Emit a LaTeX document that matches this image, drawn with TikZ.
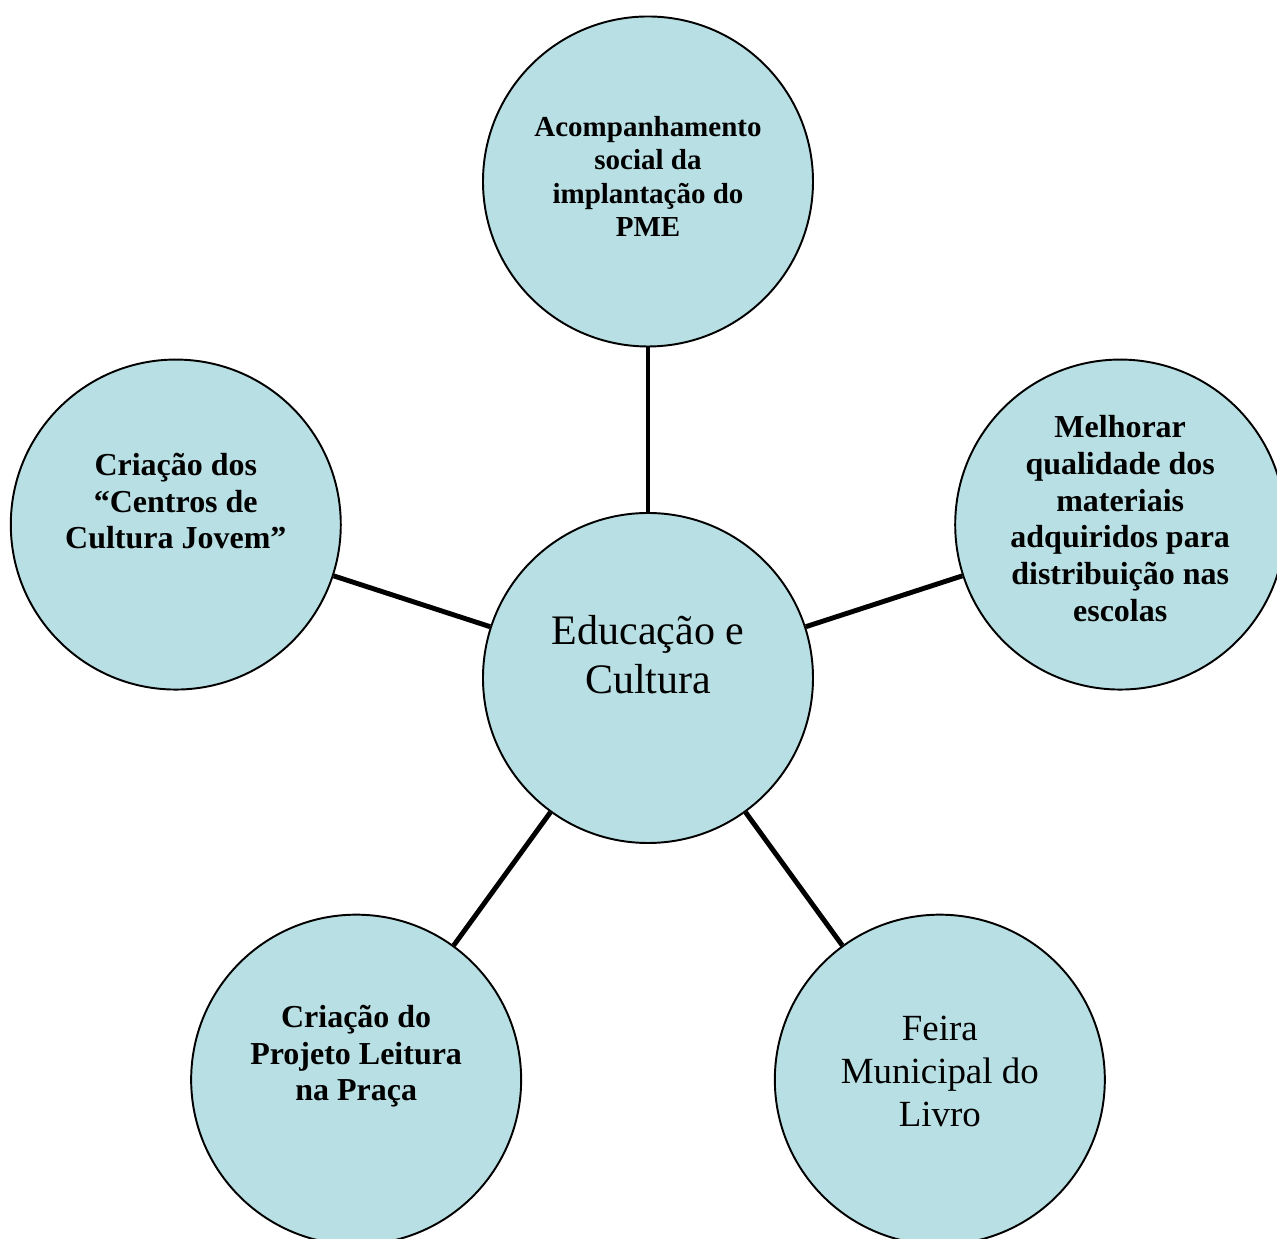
\documentclass[tikz,border=0pt]{standalone}
\usepackage{fontspec}
\setmainfont{Liberation Serif}
\usetikzlibrary{positioning}
\definecolor{azulclaro}{RGB}{184,223,227}
\tikzset{
  bolha/.style={circle,draw,line width=1.1pt,fill=azulclaro,minimum size=6.6cm,inner sep=0pt},
  txtcentro/.style={align=center,font=\fontsize{23.9}{27.9}\selectfont},
  txtfeira/.style={align=center,font=\fontsize{21}{24.5}\selectfont},
  txtnegrito/.style={align=center,font=\fontsize{18.2}{21}\selectfont\bfseries},
  txtmenor/.style={align=center,font=\fontsize{16.5}{19.1}\selectfont\bfseries}
}

\begin{document}
\begin{tikzpicture}[line width=1pt]

\useasboundingbox (-12.96,-11.22) rectangle (12.58,13.56);

\node [bolha] (c) at (0,0) {};
\node [bolha] (acomp) at (90:9.93) {};
\node [bolha] (melh) at (18:9.93) {};
\node [bolha] (centros) at (162:9.93) {};
\node [bolha] (leitura) at (234:9.93) {};
\node [bolha] (feira) at (306:9.93) {};

\node [txtcentro] (c-txt) at ([yshift=0.47cm]c.center) {Educação e\\Cultura};
\node [txtmenor] (acomp-txt) at ([yshift=0.1cm]acomp.center) {Acompanhamento\\social da\\implantação do\\PME};
\node [txtnegrito] (melh-txt) at ([yshift=0.12cm]melh.center) {Melhorar\\qualidade dos\\materiais\\adquiridos para\\distribuição nas\\escolas};
\node [txtnegrito] (centros-txt) at ([yshift=0.47cm]centros.center) {Criação dos\\“Centros de\\Cultura Jovem”};
\node [txtnegrito] (leitura-txt) at ([yshift=0.47cm]leitura.center) {Criação do\\Projeto Leitura\\na Praça};
\node [txtfeira] (feira-txt) at ([yshift=0.17cm]feira.center) {Feira\\Municipal do\\Livro};

\begin{scope}[line width=2.8pt]
\draw[color=black] (c) to (acomp);
\draw[color=black] (c) to (melh);
\draw[color=black] (c) to (centros);
\draw[color=black] (c) to (leitura);
\draw[color=black] (c) to (feira);
\end{scope}

\end{tikzpicture}
\end{document}
